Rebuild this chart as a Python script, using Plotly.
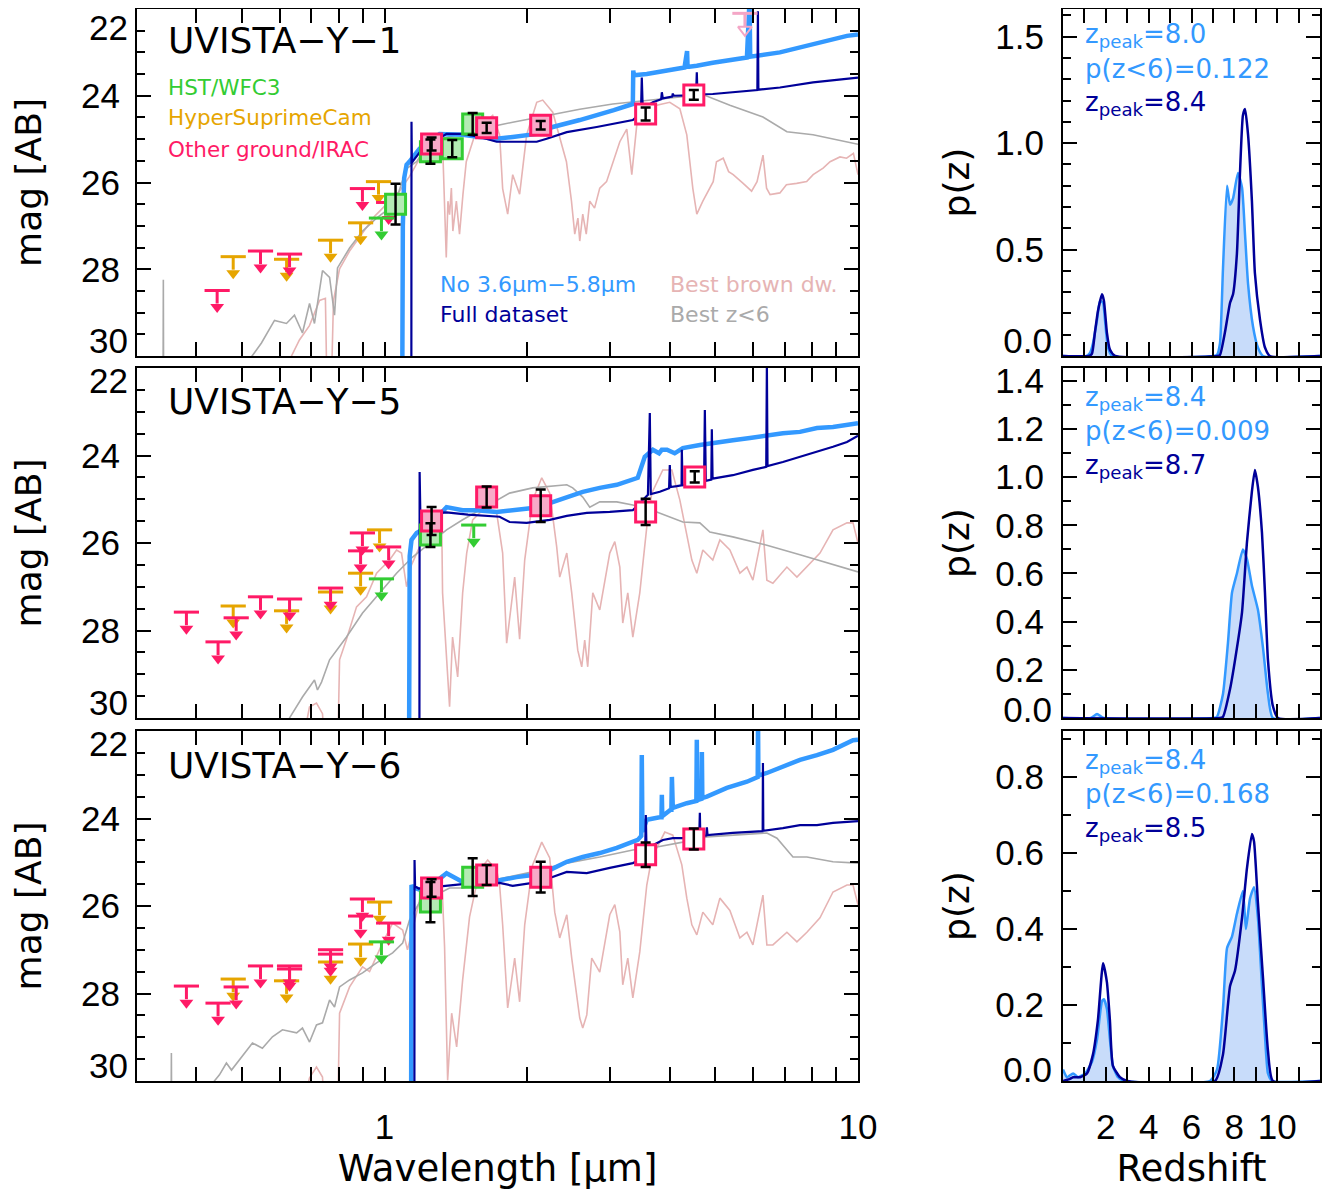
import numpy as np
import plotly.graph_objects as go

# page body has a default 8 px margin: the figure is sized / positioned to compensate
OFF = 8
W, H = 1332 - OFF, 1201 - OFF
FONT = "DejaVu Sans"
TICKFONT = "Liberation Sans"
C_LB = "#3399FF"
C_DB = "#000099"
C_BD = "#E6B4B4"
C_GR = "#AAAAAA"
C_HST = "#33CC33"; C_HST_F = "#B4EBB4"
C_HSC = "#E6A500"
C_OTH = "#FF1A66"; C_OTH_F = "#F8AAC8"
C_IRAC_UL = "#F4A6C6"
C_FILL = "#C8DCFA"

NAMES = ["UVISTA\u2212Y\u22121", "UVISTA\u2212Y\u22125", "UVISTA\u2212Y\u22126"]
ZPEAK_NO = ["8.0", "8.4", "8.4"]
PLOW_NO = ["0.122", "0.009", "0.168"]
ZPEAK_FULL = ["8.4", "8.7", "8.5"]

# ---------------- Panel 1 (UVISTA-Y-1) ----------------
P1_LB_LAM = [1.088, 1.093, 1.100, 1.113, 1.129, 1.186, 1.307, 1.462, 1.588, 1.725, 1.865, 2.096, 2.266, 2.584, 3.05, 3.345, 3.352, 3.36, 3.58, 3.948, 4.30, 4.355, 4.365, 4.40, 4.566, 4.935, 5.826, 5.90, 5.92, 6.84, 8.03, 9.478, 10.0]
P1_LB_MAG = [33, 27.0, 25.9, 25.59, 25.52, 25.22, 24.88, 24.9, 24.95, 24.99, 24.95, 24.88, 24.72, 24.56, 24.33, 24.19, 23.42, 23.53, 23.5, 23.42, 23.35, 22.97, 23.33, 23.33, 23.31, 23.24, 23.12, 21.8, 23.1, 23.0, 22.82, 22.62, 22.59]
P1_DB_LAM = [1.138, 1.140, 1.142, 1.146, 1.203, 1.352, 1.462, 1.588, 1.725, 1.865, 2.096, 2.2, 2.426, 2.806, 3.345, 3.48, 3.494, 3.51, 3.687, 3.84, 3.852, 3.87, 4.05, 4.063, 4.08, 4.414, 4.55, 4.566, 4.58, 4.935, 6.13, 6.146, 6.16, 6.841, 8.035, 10.0]
P1_DB_MAG = [40, 24.6, 25.55, 25.52, 25.22, 24.88, 24.88, 24.95, 25.06, 25.06, 25.06, 24.99, 24.84, 24.72, 24.56, 24.4, 23.58, 24.3, 24.15, 24.08, 23.92, 24.06, 24.02, 23.95, 24.0, 23.99, 23.97, 23.46, 23.97, 23.96, 23.87, 22.05, 23.86, 23.81, 23.69, 23.58]
P1_GR_LAM = [0.3405, 0.341, 0.3415, 0.51, 0.5233, 0.5495, 0.5855, 0.6206, 0.6452, 0.6708, 0.6943, 0.7112, 0.7395, 0.7654, 0.784, 0.7955, 0.8436, 0.8985, 0.9618, 1.0247, 1.0601, 1.113, 1.1687, 1.245, 1.462, 1.588, 1.865, 2.2, 2.584, 3.034, 3.58, 4.205, 4.702, 5.363, 6.298, 7.077, 8.035, 10.0]
P1_GR_MAG = [31, 28.24, 31, 31, 30.02, 29.70, 29.18, 29.25, 29.06, 29.47, 28.79, 29.25, 28.03, 28.19, 29.06, 27.97, 27.51, 27.12, 26.82, 26.59, 26.37, 25.68, 25.52, 25.06, 24.88, 24.77, 24.61, 24.45, 24.31, 24.19, 24.10, 24.03, 23.97, 24.22, 24.49, 24.83, 24.90, 25.12]
P1_BD_LAM = [0.62, 0.636, 0.661, 0.694, 0.729, 0.750, 0.7577, 0.7688, 0.78, 0.8035, 0.8436, 0.8985, 0.9525, 1.0247, 1.0758, 1.1294, 1.1858, 1.245, 1.307, 1.329, 1.35, 1.361, 1.372, 1.384, 1.394, 1.418, 1.44, 1.464, 1.488, 1.565, 1.692, 1.75, 1.776, 1.82, 1.865, 1.929, 1.996, 2.096, 2.158, 2.266, 2.367, 2.422, 2.482, 2.522, 2.561, 2.584, 2.622, 2.667, 2.713, 2.777, 2.848, 2.944, 3.04, 3.14, 3.248, 3.328, 3.41, 3.58, 3.758, 4.004, 4.205, 4.349, 4.479, 4.566, 4.702, 4.945, 5.024, 5.192, 5.33, 5.45, 5.72, 5.96, 6.12, 6.30, 6.41, 6.52, 6.84, 7.06, 7.42, 7.79, 8.04, 8.44, 8.73, 9.16, 9.46, 9.78, 10.0]
P1_BD_MAG = [31, 30.0, 29.63, 29.3, 28.72, 28.67, 31.5, 31.5, 28.72, 27.99, 27.58, 27.17, 26.78, 26.43, 26.2, 25.86, 25.45, 25.18, 25.0, 25.44, 27.73, 26.43, 26.74, 26.13, 27.12, 26.43, 27.19, 26.28, 25.52, 24.77, 24.45, 24.9, 26.14, 26.73, 25.82, 26.27, 24.9, 24.15, 24.1, 24.38, 25.13, 25.52, 26.43, 27.19, 26.82, 27.35, 26.73, 27.19, 26.43, 26.59, 26.13, 25.98, 25.52, 25.06, 24.77, 25.82, 24.67, 24.38, 24.22, 24.15, 24.3, 24.9, 26.14, 26.73, 26.43, 25.98, 25.52, 25.44, 25.75, 25.82, 26.02, 26.2, 25.98, 25.37, 26.13, 26.28, 26.24, 26.05, 26.02, 25.98, 25.82, 25.67, 25.52, 25.41, 25.44, 25.33, 25.82]
P1_HST_LAM = [1.055, 1.25, 1.39, 1.535]
P1_HST_MAG = [26.50, 25.29, 25.22, 24.65]
P1_HST_ERR = [0.47, 0.28, 0.2, 0.25]
P1_GND_LAM = [1.257, 1.643, 2.137]
P1_GND_MAG = [25.11, 24.74, 24.68]
P1_GND_ERR = [0.15, 0.12, 0.1]
P1_IRAC_LAM = [3.56, 4.50]
P1_IRAC_MAG = [24.42, 23.98]
P1_IRAC_ERR = [0.15, 0.11]
P1_UL_OTH_LAM = [0.443, 0.547, 0.63, 0.898, 1.02]
P1_UL_OTH_MAG = [28.49, 27.58, 27.65, 26.14, 26.46]
P1_UL_HSC_LAM = [0.479, 0.621, 0.769, 0.89, 0.971]
P1_UL_HSC_MAG = [27.71, 27.77, 27.33, 26.93, 25.98]
P1_UL_HST_LAM = [0.985]
P1_UL_HST_MAG = [26.82]
P1_UL_IRAC_LAM = [5.77]
P1_UL_IRAC_MAG = [22.1]

# ---------------- Panel 2 (UVISTA-Y-5) ----------------
P2_LB_LAM = [1.125, 1.13, 1.14, 1.169, 1.245, 1.352, 1.462, 1.565, 1.725, 1.901, 2.055, 2.233, 2.426, 2.622, 2.848, 3.094, 3.426, 3.48, 3.545, 3.687, 3.80, 3.85, 3.95, 4.10, 4.266, 4.634, 5.034, 5.44, 5.911, 6.42, 6.94, 7.541, 8.19, 8.855, 10.0]
P2_LB_MAG = [33, 26.3, 25.93, 25.77, 25.6, 25.18, 25.25, 25.25, 25.29, 25.25, 25.2, 25.09, 24.95, 24.83, 24.74, 24.67, 24.51, 24.25, 24.03, 23.87, 23.95, 23.87, 23.87, 23.95, 23.83, 23.76, 23.69, 23.65, 23.6, 23.53, 23.49, 23.46, 23.37, 23.35, 23.26]
P2_DB_LAM = [1.183, 1.186, 1.19, 1.25, 1.352, 1.5, 1.75, 1.837, 1.996, 2.233, 2.426, 2.674, 2.99, 3.345, 3.55, 3.60, 3.633, 3.65, 3.814, 3.99, 4.004, 4.02, 4.142, 4.24, 4.245, 4.26, 4.349, 4.73, 4.748, 4.77, 4.90, 4.912, 4.93, 5.034, 5.44, 5.998, 6.40, 6.42, 6.44, 6.94, 7.541, 8.19, 8.855, 9.478, 10.0]
P2_DB_MAG = [40, 24.38, 25.3, 25.32, 25.3, 25.35, 25.4, 25.52, 25.54, 25.47, 25.38, 25.31, 25.29, 25.25, 24.95, 24.9, 23.03, 24.88, 24.83, 24.75, 24.22, 24.72, 24.7, 24.68, 23.87, 24.68, 24.67, 24.6, 22.96, 24.58, 24.55, 23.4, 24.53, 24.51, 24.45, 24.33, 24.26, 21.9, 24.24, 24.15, 24.03, 23.92, 23.8, 23.69, 23.55]
P2_GR_LAM = [0.60, 0.6298, 0.6708, 0.7112, 0.7217, 0.736, 0.7654, 0.8311, 0.8985, 0.9759, 1.0601, 1.146, 1.245, 1.352, 1.462, 1.588, 1.725, 1.837, 2.055, 2.233, 2.426, 2.497, 2.622, 2.713, 2.848, 3.094, 3.345, 3.758, 4.266, 4.634, 4.866, 5.44, 6.42, 7.541, 8.855, 10.0]
P2_GR_MAG = [31, 30.0, 29.52, 29.13, 29.36, 29.18, 28.67, 28.15, 27.6, 27.14, 26.69, 26.32, 26.0, 25.7, 25.47, 25.25, 25.02, 24.86, 24.74, 24.7, 24.67, 24.74, 24.95, 25.18, 25.06, 25.06, 25.13, 25.29, 25.52, 25.54, 25.75, 25.86, 26.05, 26.27, 26.5, 26.66]
P2_BD_LAM = [0.66, 0.694, 0.7182, 0.7395, 0.7504, 0.7955, 0.8035, 0.8311, 0.8726, 0.9161, 0.9618, 1.0247, 1.0601, 1.086, 1.113, 1.14, 1.1858, 1.245, 1.32, 1.326, 1.352, 1.372, 1.392, 1.427, 1.462, 1.491, 1.535, 1.627, 1.725, 1.776, 1.811, 1.883, 1.929, 1.977, 2.055, 2.148, 2.233, 2.31, 2.344, 2.426, 2.485, 2.559, 2.609, 2.647, 2.686, 2.753, 2.848, 2.99, 3.064, 3.14, 3.185, 3.264, 3.345, 3.46, 3.58, 3.668, 3.87, 4.044, 4.205, 4.349, 4.457, 4.566, 4.702, 4.935, 5.108, 5.363, 5.63, 5.826, 5.998, 6.298, 6.42, 6.61, 7.077, 7.43, 7.8, 8.312, 8.855, 9.478, 9.76, 10.0]
P2_BD_MAG = [31, 29.75, 29.66, 29.9, 31, 31, 28.67, 28.2, 27.46, 27.23, 26.69, 26.39, 26.16, 26.23, 27.0, 26.5, 26.09, 25.77, 25.4, 27.14, 28.67, 29.74, 28.15, 29.06, 27.14, 26.23, 25.47, 25.2, 25.31, 26.23, 28.29, 26.78, 28.2, 26.39, 25.02, 24.51, 24.86, 26.09, 26.78, 26.23, 27.14, 28.45, 28.83, 28.22, 28.83, 27.14, 27.53, 26.23, 25.97, 26.55, 27.83, 27.14, 28.15, 27.14, 25.63, 24.86, 24.33, 24.33, 25.02, 25.77, 26.39, 26.69, 26.16, 26.39, 25.93, 26.16, 26.69, 26.55, 26.85, 25.7, 26.85, 26.92, 26.55, 26.78, 26.55, 26.23, 25.7, 25.54, 25.54, 26.0]
P2_HST_LAM = [1.25]
P2_HST_MAG = [25.82]
P2_HST_ERR = [0.27]
P2_GND_LAM = [1.257, 1.643, 2.137]
P2_GND_MAG = [25.5, 24.95, 25.15]
P2_GND_ERR = [0.32, 0.24, 0.37]
P2_IRAC_LAM = [3.56, 4.52]
P2_IRAC_MAG = [25.29, 24.49]
P2_IRAC_ERR = [0.3, 0.13]
P2_UL_OTH_LAM = [0.3815, 0.445, 0.486, 0.547, 0.63, 0.769, 0.89, 0.898, 1.02]
P2_UL_OTH_MAG = [27.58, 28.26, 27.71, 27.23, 27.28, 27.03, 26.18, 25.77, 26.09]
P2_UL_HSC_LAM = [0.479, 0.621, 0.769, 0.89, 0.976]
P2_UL_HSC_MAG = [27.44, 27.55, 27.12, 26.69, 25.70]
P2_UL_HST_LAM = [0.985, 1.543]
P2_UL_HST_MAG = [26.82, 25.59]

# ---------------- Panel 3 (UVISTA-Y-6) ----------------
P3_LB_LAM = [1.137, 1.14, 1.146, 1.19, 1.25, 1.352, 1.462, 1.588, 1.75, 1.9, 2.055, 2.233, 2.426, 2.622, 2.848, 3.094, 3.426, 3.485, 3.494, 3.505, 3.58, 3.81, 3.845, 3.852, 3.86, 4.02, 4.035, 4.045, 4.063, 4.349, 4.556, 4.566, 4.576, 4.67, 4.68, 4.69, 4.795, 5.284, 5.826, 6.14, 6.15, 6.16, 6.42, 6.94, 7.541, 8.19, 8.855, 9.76, 10.0]
P3_LB_MAG = [33, 25.52, 25.57, 25.63, 25.55, 25.25, 25.45, 25.41, 25.41, 25.34, 25.29, 25.18, 24.99, 24.88, 24.79, 24.67, 24.49, 24.4, 22.55, 24.3, 24.03, 23.97, 23.97, 23.46, 23.95, 23.8, 23.8, 23.05, 23.76, 23.65, 23.6, 22.2, 23.58, 23.55, 22.48, 23.53, 23.5, 23.3, 23.16, 23.05, 21.8, 23.02, 22.96, 22.82, 22.66, 22.55, 22.43, 22.21, 22.2]
P3_DB_LAM = [1.155, 1.157, 1.16, 1.18, 1.3, 1.462, 1.75, 1.865, 2.055, 2.233, 2.426, 2.674, 2.99, 3.345, 3.55, 3.563, 3.575, 3.687, 3.871, 4.063, 4.349, 4.62, 4.634, 4.645, 4.78, 4.795, 4.81, 5.44, 6.29, 6.298, 6.31, 6.94, 7.541, 8.19, 8.855, 10.0]
P3_DB_MAG = [40, 24.95, 25.55, 25.6, 25.55, 25.5, 25.47, 25.54, 25.47, 25.36, 25.22, 25.25, 25.13, 25.02, 24.9, 23.92, 24.7, 24.61, 24.49, 24.45, 24.45, 24.42, 23.87, 24.41, 24.39, 24.2, 24.38, 24.33, 24.29, 22.73, 24.28, 24.22, 24.15, 24.15, 24.1, 24.06]
P3_GR_LAM = [0.354, 0.3546, 0.3552, 0.43, 0.437, 0.448, 0.4634, 0.475, 0.526, 0.552, 0.5797, 0.6086, 0.652, 0.6708, 0.6943, 0.7182, 0.7395, 0.7654, 0.784, 0.8035, 0.8436, 0.8985, 0.9618, 1.04, 1.092, 1.129, 1.186, 1.263, 1.372, 1.462, 1.75, 2.055, 2.426, 2.848, 3.345, 3.758, 4.266, 4.795, 5.44, 6.42, 6.743, 7.288, 7.8, 8.855, 10.0]
P3_GR_MAG = [31, 29.36, 31, 31, 30.0, 29.86, 29.59, 29.75, 29.13, 29.25, 28.99, 28.83, 28.9, 28.79, 29.11, 28.72, 28.67, 28.15, 28.31, 27.85, 27.69, 27.53, 27.3, 27.07, 26.85, 26.32, 25.91, 25.79, 25.59, 25.59, 25.38, 25.22, 25.02, 24.88, 24.72, 24.65, 24.54, 24.42, 24.38, 24.33, 24.45, 24.88, 24.88, 24.99, 25.02]
P3_BD_LAM = [0.66, 0.694, 0.7182, 0.7395, 0.7504, 0.7955, 0.8035, 0.8436, 0.8985, 0.9297, 0.990, 1.04, 1.092, 1.118, 1.146, 1.1858, 1.245, 1.32, 1.339, 1.359, 1.386, 1.42, 1.462, 1.512, 1.588, 1.651, 1.725, 1.75, 1.776, 1.82, 1.883, 1.929, 1.977, 2.055, 2.148, 2.233, 2.288, 2.344, 2.426, 2.485, 2.584, 2.622, 2.674, 2.739, 2.848, 2.99, 3.064, 3.14, 3.185, 3.264, 3.345, 3.46, 3.58, 3.668, 3.908, 4.063, 4.245, 4.349, 4.457, 4.566, 4.702, 4.935, 5.108, 5.363, 5.63, 5.826, 5.998, 6.298, 6.42, 6.61, 7.077, 7.43, 7.8, 8.312, 8.855, 9.478, 9.76, 10.0]
P3_BD_MAG = [31, 29.93, 29.68, 29.91, 31, 31, 28.45, 27.85, 27.39, 27.5, 26.85, 26.39, 26.55, 27.0, 26.55, 25.86, 25.57, 25.29, 26.94, 29.98, 28.45, 29.22, 27.69, 26.25, 25.18, 24.95, 25.18, 25.52, 26.43, 28.33, 27.19, 28.19, 26.43, 25.06, 24.54, 24.9, 26.14, 26.73, 26.2, 27.19, 28.56, 28.79, 28.49, 27.19, 27.51, 26.2, 25.97, 26.59, 27.8, 27.19, 28.1, 27.05, 25.52, 24.9, 24.31, 24.38, 25.06, 25.82, 26.43, 26.66, 26.14, 26.43, 25.82, 26.1, 26.73, 26.6, 26.89, 25.75, 26.89, 26.89, 26.6, 26.82, 26.6, 26.27, 25.68, 25.52, 25.52, 25.97]
P3_HST_LAM = [1.25, 1.535]
P3_HST_MAG = [25.91, 25.34]
P3_HST_ERR = [0.46, 0.43]
P3_GND_LAM = [1.257, 1.643, 2.137]
P3_GND_MAG = [25.59, 25.29, 25.34]
P3_GND_ERR = [0.2, 0.23, 0.35]
P3_IRAC_LAM = [3.56, 4.50]
P3_IRAC_MAG = [24.83, 24.47]
P3_IRAC_ERR = [0.28, 0.24]
P3_UL_OTH_LAM = [0.3815, 0.445, 0.486, 0.547, 0.63, 0.63, 0.769, 0.769, 0.89, 0.898, 1.02]
P3_UL_OTH_MAG = [27.83, 28.22, 27.85, 27.37, 27.37, 27.44, 27.0, 27.1, 26.23, 25.84, 26.39]
P3_UL_HSC_LAM = [0.479, 0.621, 0.769, 0.89, 0.976]
P3_UL_HSC_MAG = [27.67, 27.71, 27.28, 26.87, 25.91]
P3_UL_HST_LAM = [0.985]
P3_UL_HST_MAG = [26.82]

# ---------------- p(z) curves ----------------
PZ1_NO_Z = [0, 1.1, 1.26, 1.4, 1.59, 1.73, 1.87, 1.96, 2.1, 2.29, 7.05, 7.19, 7.33, 7.47, 7.66, 7.8, 7.94, 8.17, 8.36, 8.5, 8.64, 8.87, 9.1, 9.34, 12]
PZ1_NO_P = [0, 0, 0.014, 0.06, 0.17, 0.26, 0.25, 0.17, 0.04, 0.0, 0, 0.005, 0.06, 0.41, 0.8, 0.71, 0.74, 0.86, 0.79, 0.57, 0.34, 0.14, 0.04, 0, 0]
PZ1_FULL_Z = [0, 1.2, 1.35, 1.49, 1.63, 1.82, 1.91, 2.05, 2.19, 2.43, 7.2, 7.33, 7.56, 7.8, 7.94, 8.12, 8.26, 8.4, 8.5, 8.64, 8.82, 8.96, 9.2, 9.43, 9.66, 12]
PZ1_FULL_P = [0, 0, 0.01, 0.11, 0.21, 0.29, 0.26, 0.11, 0.03, 0, 0, 0.005, 0.11, 0.25, 0.29, 0.48, 0.85, 1.13, 1.16, 1.04, 0.73, 0.39, 0.17, 0.04, 0, 0]
PZ2_NO_Z = [0, 1.3, 1.59, 1.9, 7.0, 7.19, 7.47, 7.7, 7.89, 8.12, 8.4, 8.59, 8.82, 9.1, 9.34, 9.57, 9.8, 12]
PZ2_NO_P = [0, 0, 0.017, 0, 0, 0.005, 0.1, 0.31, 0.52, 0.6, 0.7, 0.66, 0.55, 0.45, 0.29, 0.1, 0, 0]
PZ2_FULL_Z = [0, 7.3, 7.47, 7.8, 8.12, 8.36, 8.59, 8.82, 8.96, 9.1, 9.29, 9.43, 9.57, 9.8, 10.04, 12]
PZ2_FULL_P = [0, 0, 0.005, 0.12, 0.29, 0.44, 0.73, 0.94, 1.03, 0.96, 0.77, 0.52, 0.24, 0.05, 0, 0]
PZ3_NO_Z = [0, 0.19, 0.47, 0.7, 1.03, 1.35, 1.59, 1.82, 1.91, 2.05, 2.19, 2.33, 2.57, 2.9, 6.86, 7.19, 7.47, 7.66, 7.89, 8.12, 8.4, 8.54, 8.73, 8.92, 9.1, 9.29, 9.43, 9.57, 9.76, 12]
PZ3_NO_P = [0.03, 0.01, 0.02, 0.01, 0.02, 0.05, 0.11, 0.21, 0.215, 0.19, 0.11, 0.04, 0.01, 0, 0, 0.03, 0.19, 0.35, 0.38, 0.44, 0.5, 0.4, 0.48, 0.51, 0.43, 0.25, 0.12, 0.02, 0, 0]
PZ3_FULL_Z = [0, 0.3, 0.47, 0.8, 1.12, 1.4, 1.63, 1.87, 2.05, 2.19, 2.33, 2.66, 3.0, 7.1, 7.47, 7.8, 8.03, 8.36, 8.59, 8.82, 8.92, 9.1, 9.34, 9.57, 9.8, 12]
PZ3_FULL_P = [0, 0.005, 0.01, 0.01, 0.02, 0.07, 0.16, 0.31, 0.26, 0.16, 0.04, 0.01, 0, 0, 0.07, 0.25, 0.29, 0.43, 0.56, 0.65, 0.63, 0.47, 0.27, 0.08, 0, 0]

PZ_YMAX = [1.63, 1.453, 0.921]
PZ_TICKS = [[0.0, 0.5, 1.0, 1.5], [0.0, 0.2, 0.4, 0.6, 0.8, 1.0, 1.2, 1.4], [0.0, 0.2, 0.4, 0.6, 0.8]]
MAG_TICKS = [22, 24, 26, 28, 30]
LAM_MINOR = [0.3, 0.4, 0.5, 0.6, 0.7, 0.8, 0.9, 2, 3, 4, 5, 6, 7, 8, 9]

PANELS = [
    dict(lb=(P1_LB_LAM, P1_LB_MAG), db=(P1_DB_LAM, P1_DB_MAG), gr=(P1_GR_LAM, P1_GR_MAG), bd=(P1_BD_LAM, P1_BD_MAG),
         hst=(P1_HST_LAM, P1_HST_MAG, P1_HST_ERR), gnd=(P1_GND_LAM, P1_GND_MAG, P1_GND_ERR), irac=(P1_IRAC_LAM, P1_IRAC_MAG, P1_IRAC_ERR),
         ul_oth=(P1_UL_OTH_LAM, P1_UL_OTH_MAG), ul_hsc=(P1_UL_HSC_LAM, P1_UL_HSC_MAG), ul_hst=(P1_UL_HST_LAM, P1_UL_HST_MAG),
         ul_irac=(P1_UL_IRAC_LAM, P1_UL_IRAC_MAG),
         pz_no=(PZ1_NO_Z, PZ1_NO_P), pz_full=(PZ1_FULL_Z, PZ1_FULL_P)),
    dict(lb=(P2_LB_LAM, P2_LB_MAG), db=(P2_DB_LAM, P2_DB_MAG), gr=(P2_GR_LAM, P2_GR_MAG), bd=(P2_BD_LAM, P2_BD_MAG),
         hst=(P2_HST_LAM, P2_HST_MAG, P2_HST_ERR), gnd=(P2_GND_LAM, P2_GND_MAG, P2_GND_ERR), irac=(P2_IRAC_LAM, P2_IRAC_MAG, P2_IRAC_ERR),
         ul_oth=(P2_UL_OTH_LAM, P2_UL_OTH_MAG), ul_hsc=(P2_UL_HSC_LAM, P2_UL_HSC_MAG), ul_hst=(P2_UL_HST_LAM, P2_UL_HST_MAG),
         ul_irac=None,
         pz_no=(PZ2_NO_Z, PZ2_NO_P), pz_full=(PZ2_FULL_Z, PZ2_FULL_P)),
    dict(lb=(P3_LB_LAM, P3_LB_MAG), db=(P3_DB_LAM, P3_DB_MAG), gr=(P3_GR_LAM, P3_GR_MAG), bd=(P3_BD_LAM, P3_BD_MAG),
         hst=(P3_HST_LAM, P3_HST_MAG, P3_HST_ERR), gnd=(P3_GND_LAM, P3_GND_MAG, P3_GND_ERR), irac=(P3_IRAC_LAM, P3_IRAC_MAG, P3_IRAC_ERR),
         ul_oth=(P3_UL_OTH_LAM, P3_UL_OTH_MAG), ul_hsc=(P3_UL_HSC_LAM, P3_UL_HSC_MAG), ul_hst=(P3_UL_HST_LAM, P3_UL_HST_MAG),
         ul_irac=None,
         pz_no=(PZ3_NO_Z, PZ3_NO_P), pz_full=(PZ3_FULL_Z, PZ3_FULL_P)),
]

# ---------------- layout geometry (page pixels) ----------------
ROWS = [(OFF + 1, 356), (368, 718), (731, 1081)]
LX = (137, 858)
RX = (1063, 1320)
STEM = 0.30     # upper-limit arrow stem length (style)
ARROW = 0.38    # arrow-head offset (style)
TICKFS = 35
TITLEFS = 37
PZ_ZERO_SHIFT = [-15, -8, -11]   # pixel nudge of the "0.0" label (style)


def dx(a, b):
    return [(a - OFF) / W, (b - OFF) / W]


def dy(t, b):
    return [max(0.0, 1 - (b - OFF) / H), min(1.0, 1 - (t - OFF) / H)]


def aid(n):
    return "" if n == 1 else str(n)


fig = go.Figure()


def sc(**kw):
    kw.setdefault("showlegend", False)
    kw.setdefault("hoverinfo", "skip")
    fig.add_trace(go.Scatter(**kw))


def add_ul(lam, mag, xa, ya, color, open_head=False):
    n = len(mag)
    sc(x=lam, y=mag, xaxis=xa, yaxis=ya, mode="markers",
       marker=dict(symbol="line-ew", size=18, color=color, line=dict(color=color, width=3)),
       error_y=dict(type="data", symmetric=False, array=[STEM] * n, arrayminus=[0] * n,
                    color=color, thickness=3, width=0))
    sc(x=lam, y=[m + ARROW for m in mag], xaxis=xa, yaxis=ya, mode="markers",
       marker=dict(symbol="triangle-down-open" if open_head else "triangle-down", size=12,
                   color=color, line=dict(color=color, width=2 if open_head else 0)))


def add_sq(lam, mag, xa, ya, edge, fill):
    sc(x=lam, y=mag, xaxis=xa, yaxis=ya, mode="markers",
       marker=dict(symbol="square", size=20, color=fill, line=dict(color=edge, width=3)))


def add_err(lam, mag, err, xa, ya):
    sc(x=lam, y=mag, xaxis=xa, yaxis=ya, mode="markers",
       marker=dict(size=1, color="rgba(0,0,0,0)"),
       error_y=dict(type="data", array=err, color="black", thickness=2.5, width=5))


tickfont = dict(family=TICKFONT, size=TICKFS, color="black")
axis_base = dict(showline=True, linewidth=2, linecolor="black", mirror="allticks",
                 ticks="inside", tickwidth=2, tickcolor="black", ticklen=14,
                 showgrid=False, zeroline=False, automargin=False, tickfont=tickfont)
minor_base = dict(ticks="inside", ticklen=8, tickwidth=2, tickcolor="black", showgrid=False)
overlay_base = dict(side="left", ticks="", showline=False, showgrid=False, zeroline=False,
                    automargin=False, ticklabelstandoff=7, ticklabeloverflow="allow", tickfont=tickfont)

layout = dict(width=W, height=H, margin=dict(l=0, r=0, t=0, b=0, autoexpand=False),
              paper_bgcolor="white", plot_bgcolor="white", showlegend=False, hovermode=False,
              font=dict(family=FONT, size=TICKFS, color="black"))
annotations = []
overlay_n = 7


def ann(text, px, py, color, size):
    annotations.append(dict(text=text, x=(px - OFF) / W, y=1 - (py - OFF) / H, xref="paper", yref="paper",
                            xanchor="left", yanchor="middle", showarrow=False,
                            font=dict(family=FONT, size=size, color=color)))


for i, P in enumerate(PANELS):
    top, bot = ROWS[i]
    nl, nr = 2 * i + 1, 2 * i + 2
    xl, yl, xr, yr = "x" + aid(nl), "y" + aid(nl), "x" + aid(nr), "y" + aid(nr)
    last = (i == 2)

    # ---- SED axes ----
    xax = dict(axis_base, type="log", range=[np.log10(0.3), 1.0], domain=dx(*LX), anchor=yl,
               tickmode="array", tickvals=[1, 10], ticktext=["1", "10"],
               showticklabels=last, ticklabelstandoff=14, ticklabeloverflow="allow",
               minor=dict(minor_base, tickmode="array", tickvals=LAM_MINOR))
    if last:
        xax["title"] = dict(text="Wavelength [\u03bcm]", standoff=10, font=dict(family=FONT, size=TITLEFS))
    layout["xaxis" + aid(nl)] = xax
    layout["yaxis" + aid(nl)] = dict(axis_base, range=[30, 22], domain=dy(top, bot), anchor=xl,
                                     tickmode="array", tickvals=MAG_TICKS[1:-1],
                                     ticktext=[str(v) for v in MAG_TICKS[1:-1]],
                                     ticklabelstandoff=8,
                                     minor=dict(minor_base, tick0=22, dtick=0.5),
                                     title=dict(text="mag [AB]", standoff=29, font=dict(family=FONT, size=TITLEFS - 1)))
    for val, shift in ((MAG_TICKS[-1], 15), (MAG_TICKS[0], -19 if i == 0 else -13)):
        key = "yaxis" + str(overlay_n)
        layout[key] = dict(overlay_base, overlaying=yl, anchor=xl, range=[30, 22], ticklabelstandoff=8,
                           tickmode="array", tickvals=[val], ticktext=[str(val)], ticklabelshift=shift)
        sc(x=[None], y=[None], xaxis=xl, yaxis="y" + str(overlay_n), mode="markers")
        overlay_n += 1

    # ---- p(z) axes ----
    xax = dict(axis_base, range=[0, 12], domain=dx(*RX), anchor=yr,
               tickmode="array", tickvals=[2, 4, 6, 8, 10],
               ticktext=["2", "4", "6", "8", "10"],
               showticklabels=last, ticklabelstandoff=14, ticklabeloverflow="allow",
               minor=dict(minor_base, tick0=0, dtick=1))
    if last:
        xax["title"] = dict(text="Redshift", standoff=10, font=dict(family=FONT, size=TITLEFS))
    layout["xaxis" + aid(nr)] = xax
    tv = PZ_TICKS[i][1:]
    layout["yaxis" + aid(nr)] = dict(axis_base, range=[0, PZ_YMAX[i]], domain=dy(top, bot), anchor=xr,
                                     tickmode="array", tickvals=tv,
                                     ticktext=["%.1f" % v for v in tv],
                                     ticklabelstandoff=10, ticklabeloverflow="allow",
                                     minor=dict(minor_base, tick0=0, dtick=0.1),
                                     title=dict(text="p(z)", standoff=15, font=dict(family=FONT, size=TITLEFS - 1)))
    key = "yaxis" + str(overlay_n)
    layout[key] = dict(overlay_base, overlaying=yr, anchor=xr, range=[0, PZ_YMAX[i]], ticklabelstandoff=10,
                       tickmode="array", tickvals=[PZ_TICKS[i][0]], ticktext=["0.0"],
                       ticklabelshift=PZ_ZERO_SHIFT[i])
    sc(x=[None], y=[None], xaxis=xr, yaxis="y" + str(overlay_n), mode="markers")
    overlay_n += 1

    # ---- SED curves ----
    sc(x=P["bd"][0], y=P["bd"][1], xaxis=xl, yaxis=yl, mode="lines", line=dict(color=C_BD, width=1.6))
    sc(x=P["gr"][0], y=P["gr"][1], xaxis=xl, yaxis=yl, mode="lines", line=dict(color=C_GR, width=1.6))
    sc(x=P["lb"][0], y=P["lb"][1], xaxis=xl, yaxis=yl, mode="lines", line=dict(color=C_LB, width=4.5))
    sc(x=P["db"][0], y=P["db"][1], xaxis=xl, yaxis=yl, mode="lines", line=dict(color=C_DB, width=2.2))

    # ---- upper limits ----
    add_ul(*P["ul_hsc"], xl, yl, C_HSC)
    add_ul(*P["ul_oth"], xl, yl, C_OTH)
    add_ul(*P["ul_hst"], xl, yl, C_HST)
    if P["ul_irac"] is not None:
        add_ul(*P["ul_irac"], xl, yl, C_IRAC_UL, open_head=True)

    # ---- detections ----
    add_sq(P["hst"][0], P["hst"][1], xl, yl, C_HST, C_HST_F)
    add_sq(P["gnd"][0], P["gnd"][1], xl, yl, C_OTH, C_OTH_F)
    add_sq(P["irac"][0], P["irac"][1], xl, yl, C_OTH, "white")
    for key2 in ("hst", "gnd", "irac"):
        add_err(*P[key2], xl, yl)

    # ---- p(z) ----
    sc(x=P["pz_no"][0], y=P["pz_no"][1], xaxis=xr, yaxis=yr, mode="lines", fill="tozeroy",
       fillcolor=C_FILL, line=dict(color=C_LB, width=2.5, shape="spline", smoothing=0.5))
    sc(x=P["pz_full"][0], y=P["pz_full"][1], xaxis=xr, yaxis=yr, mode="lines",
       line=dict(color=C_DB, width=2.5, shape="spline", smoothing=0.5))

    # ---- texts ----
    ann(NAMES[i], 166, ROWS[i][0] + 34 if i else 40, "black", 36)
    base = 6 if i == 0 else top
    ann("z<sub>peak</sub>=" + ZPEAK_NO[i], 1083, base + 30, C_LB, 26)
    ann("p(z&lt;6)=" + PLOW_NO[i], 1083, base + 63, C_LB, 26)
    ann("z<sub>peak</sub>=" + ZPEAK_FULL[i], 1083, base + 98, C_DB, 26)
    if i == 0:
        ann("HST/WFC3", 166, 87, C_HST, 21.5)
        ann("HyperSuprimeCam", 166, 118, C_HSC, 21.5)
        ann("Other ground/IRAC", 166, 149, C_OTH, 21.5)
        ann("No 3.6\u03bcm\u22125.8\u03bcm", 438, 284, C_LB, 22)
        ann("Full dataset", 438, 315, C_DB, 22)
        ann("Best brown dw.", 668, 284, C_BD, 22)
        ann("Best z&lt;6", 668, 315, C_GR, 22)

layout["annotations"] = annotations
fig.update_layout(**layout)
fig.write_html("out.html", config={"displayModeBar": False})
